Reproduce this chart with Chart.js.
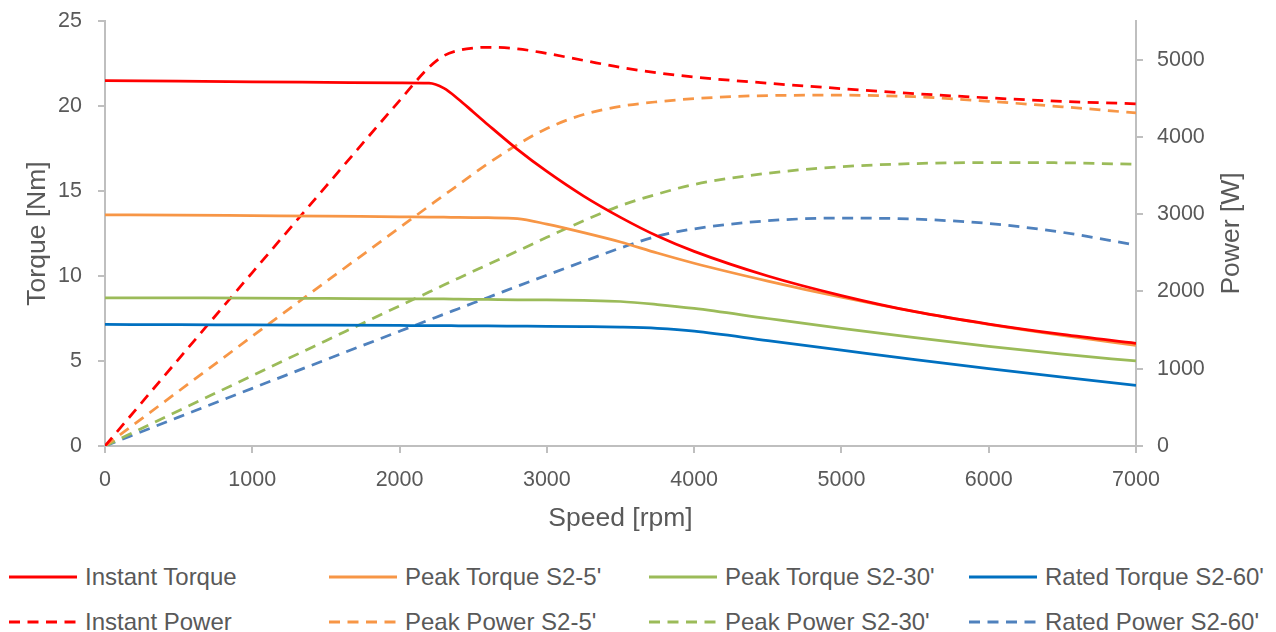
<!DOCTYPE html>
<html>
<head>
<meta charset="utf-8">
<script src="https://cdn.jsdelivr.net/npm/chart.js@4.4.1/dist/chart.umd.min.js"></script>
<style>
  body { margin: 0; background: #fff; font-family: "Liberation Sans", Arial, sans-serif; }
  #wrap { position: absolute; left: 0; top: 0; width: 1276px; height: 548px; }
  #legend {
    position: absolute; left: 9px; top: 554px;
    display: grid; grid-template-columns: repeat(4, 320px); grid-auto-rows: 45.5px;
  }
  .item { display: flex; align-items: center; color: #595959; font-size: 24px; white-space: nowrap; }
  .item svg { margin-right: 8px; flex: none; }
</style>
</head>
<body>
<div id="wrap"><canvas id="motorChart"></canvas></div>
<div id="legend"></div>
<script>
// speed grid [rpm]
const speed = [0, 500, 1000, 1500, 2000, 2200, 2300, 2400, 2500, 2600, 2800, 3000, 3250, 3500, 3750, 4000, 4500, 5000, 5500, 6000, 6500, 7000];

// torque [Nm]
const instantTorque = [21.5, 21.46, 21.42, 21.39, 21.36, 21.34, 21.05, 20.4, 19.65, 18.9, 17.45, 16.15, 14.7, 13.45, 12.35, 11.45, 10.0, 8.85, 7.9, 7.17, 6.56, 6.04];
const peakTorque5 = [13.6, 13.58, 13.55, 13.52, 13.48, 13.47, 13.46, 13.45, 13.44, 13.43, 13.38, 13.05, 12.55, 12.0, 11.35, 10.75, 9.7, 8.75, 7.9, 7.15, 6.5, 5.92];
const peakTorque30 = [8.72, 8.71, 8.7, 8.68, 8.66, 8.65, 8.65, 8.64, 8.63, 8.62, 8.6, 8.59, 8.56, 8.5, 8.32, 8.09, 7.5, 6.92, 6.37, 5.86, 5.4, 5.0];
const ratedTorque60 = [7.15, 7.14, 7.12, 7.11, 7.09, 7.08, 7.08, 7.07, 7.07, 7.06, 7.05, 7.04, 7.02, 6.99, 6.92, 6.76, 6.2, 5.64, 5.08, 4.55, 4.05, 3.57];

// power [W]
const instantPower = [0, 1125, 2245, 3360, 4470, 4900, 5050, 5120, 5150, 5160, 5140, 5080, 4990, 4900, 4830, 4775, 4695, 4625, 4560, 4505, 4460, 4428];
const peakPower5 = [0, 710, 1420, 2125, 2825, 3105, 3245, 3380, 3520, 3655, 3900, 4110, 4290, 4395, 4455, 4495, 4535, 4540, 4520, 4460, 4390, 4310];
const peakPower30 = [0, 456, 911, 1363, 1814, 1992, 2083, 2172, 2260, 2348, 2522, 2700, 2915, 3110, 3260, 3385, 3530, 3615, 3655, 3668, 3665, 3645];
const ratedPower60 = [0, 374, 746, 1117, 1485, 1631, 1705, 1777, 1850, 1922, 2067, 2211, 2389, 2562, 2715, 2810, 2915, 2950, 2935, 2880, 2765, 2600];

// axis ticks
const speedTicks = [0, 1000, 2000, 3000, 4000, 5000, 6000, 7000];
const torqueTicks = [0, 5, 10, 15, 20, 25];
const powerTicks = [0, 1000, 2000, 3000, 4000, 5000];

const RED = '#FF0000', ORANGE = '#F79646', GREEN = '#9BBB59', BLUE = '#0070C0', BLUE_LIGHT = '#4F81BD';
const DASH = [11, 7.5];
const GREY = '#595959', AXIS = '#BFBFBF';

function series(label, values, color, axis, dashed) {
  return {
    label: label,
    data: speed.map((s, i) => ({ x: s, y: values[i] })),
    borderColor: color,
    backgroundColor: color,
    borderWidth: 2.75,
    borderDash: dashed ? DASH : [],
    borderCapStyle: 'butt',
    pointRadius: 0,
    cubicInterpolationMode: 'monotone',
    yAxisID: axis
  };
}

const datasets = [
  series('Instant Torque', instantTorque, RED, 'y', false),
  series("Peak Torque S2-5'", peakTorque5, ORANGE, 'y', false),
  series("Peak Torque S2-30'", peakTorque30, GREEN, 'y', false),
  series("Rated Torque S2-60'", ratedTorque60, BLUE, 'y', false),
  series('Instant Power', instantPower, RED, 'y1', true),
  series("Peak Power S2-5'", peakPower5, ORANGE, 'y1', true),
  series("Peak Power S2-30'", peakPower30, GREEN, 'y1', true),
  series("Rated Power S2-60'", ratedPower60, BLUE_LIGHT, 'y1', true)
];

// Excel keeps the right-hand title reading bottom-to-top
const rightTitle = {
  id: 'rightTitle',
  afterDraw(chart) {
    const { ctx, chartArea } = chart;
    ctx.save();
    ctx.translate(chart.scales.y1.right - 44, (chartArea.top + chartArea.bottom) / 2);
    ctx.rotate(-Math.PI / 2);
    ctx.font = '26.5px "Liberation Sans", Arial, sans-serif';
    ctx.fillStyle = GREY;
    ctx.textAlign = 'center';
    ctx.textBaseline = 'middle';
    ctx.fillText('Power [W]', 0, 0);
    ctx.restore();
  }
};

Chart.defaults.font.family = '"Liberation Sans", Arial, sans-serif';
Chart.defaults.color = GREY;

const axisGrid = { drawOnChartArea: false, drawTicks: true, tickLength: 7, color: AXIS, lineWidth: 2 };
const axisBorder = { color: AXIS, width: 2 };
const fixTicks = (list) => (s) => { s.ticks = list.map(v => ({ value: v })); };
const plain = (v) => String(v);
// fixed box sizes so the plot area lands where Excel put it
const fitBox = (w, h) => (s) => {
  if (w) s.width = w;
  if (h) s.height = h;
  s.paddingTop = 0; s.paddingBottom = 0; s.paddingLeft = 0; s.paddingRight = 0;
};

const chart = new Chart(document.getElementById('motorChart'), {
  type: 'line',
  data: { datasets: datasets },
  plugins: [rightTitle],
  options: {
    responsive: true,
    maintainAspectRatio: false,
    animation: false,
    layout: { padding: { top: 21, left: 0, right: 0, bottom: 0 } },
    plugins: {
      legend: { display: false },
      tooltip: { enabled: false }
    },
    scales: {
      x: {
        type: 'linear',
        min: 0, max: 7000,
        ticks: { padding: 14, font: { size: 21.5 }, color: GREY, maxRotation: 0, callback: plain },
        afterBuildTicks: fixTicks(speedTicks),
        grid: axisGrid,
        border: axisBorder,
        title: { display: true, text: 'Speed [rpm]', font: { size: 26.5 }, color: GREY, padding: { top: 0, bottom: 13 } },
        afterFit: fitBox(0, 102)
      },
      y: {
        position: 'left',
        min: 0, max: 25,
        ticks: { padding: 16, font: { size: 21.5 }, color: GREY, callback: plain },
        afterBuildTicks: fixTicks(torqueTicks),
        grid: axisGrid,
        border: axisBorder,
        title: { display: true, text: 'Torque [Nm]', font: { size: 26.5 }, color: GREY, padding: { top: 22, bottom: 0 } },
        afterFit: fitBox(105, 0)
      },
      y1: {
        position: 'right',
        min: 0, max: 5500,
        ticks: { padding: 14, font: { size: 21.5 }, color: GREY, callback: plain },
        afterBuildTicks: fixTicks(powerTicks),
        grid: axisGrid,
        border: axisBorder,
        afterFit: fitBox(140, 0)
      }
    }
  }
});

// html legend in four fixed columns, built from the chart's datasets
const legendEl = document.getElementById('legend');
chart.data.datasets.forEach((ds) => {
  const item = document.createElement('div');
  item.className = 'item';
  const dash = ds.borderDash.length ? ` stroke-dasharray="${ds.borderDash.join(' ')}"` : '';
  item.innerHTML = `<svg width="68" height="8"><line x1="0" y1="4" x2="68" y2="4" stroke="${ds.borderColor}" stroke-width="3"${dash}/></svg><span>${ds.label}</span>`;
  legendEl.appendChild(item);
});
</script>
</body>
</html>
